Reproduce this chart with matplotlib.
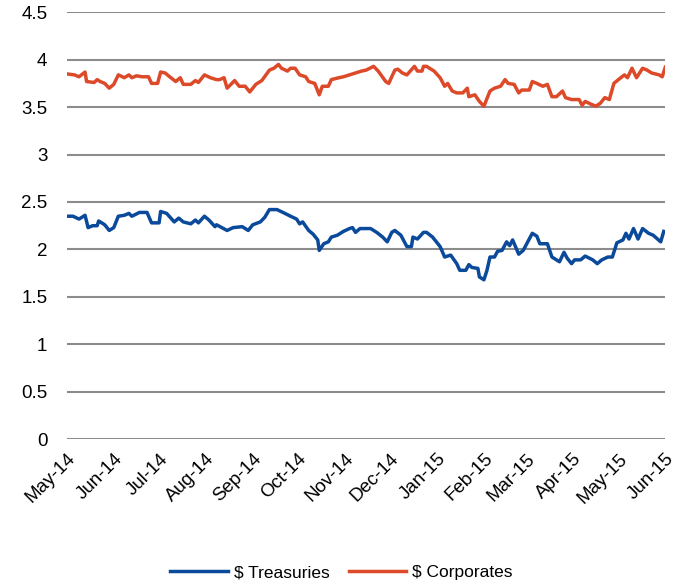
import numpy as np
import pandas as pd
import matplotlib
matplotlib.use("Agg")
import matplotlib.pyplot as plt
import matplotlib.dates as mdates

# yields (%)
tsy_dates = ["2014-05-01", "2014-05-05", "2014-05-09", "2014-05-13", "2014-05-15", "2014-05-18",
             "2014-05-21", "2014-05-22", "2014-05-26", "2014-05-29", "2014-06-01", "2014-06-04",
             "2014-06-08", "2014-06-11", "2014-06-13", "2014-06-18", "2014-06-23", "2014-06-26",
             "2014-07-01", "2014-07-02", "2014-07-06", "2014-07-11", "2014-07-14", "2014-07-17",
             "2014-07-22", "2014-07-25", "2014-07-27", "2014-07-31", "2014-08-03", "2014-08-07",
             "2014-08-08", "2014-08-15", "2014-08-19", "2014-08-25", "2014-08-29", "2014-09-01",
             "2014-09-06", "2014-09-09", "2014-09-12", "2014-09-17", "2014-09-21", "2014-09-26",
             "2014-09-30", "2014-10-02", "2014-10-04", "2014-10-08", "2014-10-11", "2014-10-14",
             "2014-10-15", "2014-10-18", "2014-10-21", "2014-10-23", "2014-10-27", "2014-10-31",
             "2014-11-04", "2014-11-06", "2014-11-08", "2014-11-11", "2014-11-18", "2014-11-22",
             "2014-11-26", "2014-11-29", "2014-12-02", "2014-12-04", "2014-12-08", "2014-12-12",
             "2014-12-15", "2014-12-16", "2014-12-19", "2014-12-23", "2014-12-25", "2014-12-29",
             "2015-01-03", "2015-01-06", "2015-01-10", "2015-01-14", "2015-01-16", "2015-01-20",
             "2015-01-22", "2015-01-24", "2015-01-28", "2015-01-29", "2015-02-01", "2015-02-03",
             "2015-02-05", "2015-02-08", "2015-02-10", "2015-02-13", "2015-02-16", "2015-02-18",
             "2015-02-20", "2015-02-24", "2015-02-27", "2015-03-02", "2015-03-05", "2015-03-08",
             "2015-03-10", "2015-03-15", "2015-03-18", "2015-03-21", "2015-03-23", "2015-03-26",
             "2015-03-28", "2015-03-31", "2015-04-02", "2015-04-06", "2015-04-09", "2015-04-14",
             "2015-04-17", "2015-04-20", "2015-04-24", "2015-04-27", "2015-04-30", "2015-05-04",
             "2015-05-06", "2015-05-08", "2015-05-11", "2015-05-14", "2015-05-17", "2015-05-21",
             "2015-05-24", "2015-05-29", "2015-05-31"]
tsy = [2.35, 2.35, 2.32, 2.36, 2.23, 2.25,
       2.25, 2.30, 2.26, 2.20, 2.23, 2.35,
       2.36, 2.38, 2.35, 2.39, 2.39, 2.28,
       2.28, 2.40, 2.38, 2.29, 2.33, 2.29,
       2.27, 2.31, 2.28, 2.35, 2.31, 2.24,
       2.26, 2.20, 2.23, 2.24, 2.20, 2.26,
       2.29, 2.34, 2.42, 2.42, 2.39, 2.35,
       2.32, 2.27, 2.29, 2.20, 2.16, 2.10,
       1.99, 2.06, 2.08, 2.13, 2.15, 2.19,
       2.22, 2.23, 2.18, 2.22, 2.22, 2.18,
       2.13, 2.08, 2.18, 2.20, 2.15, 2.03,
       2.03, 2.13, 2.11, 2.18, 2.18, 2.13,
       2.03, 1.92, 1.94, 1.85, 1.78, 1.78,
       1.84, 1.81, 1.80, 1.71, 1.68, 1.78,
       1.92, 1.92, 1.98, 1.99, 2.08, 2.04,
       2.10, 1.95, 1.99, 2.08, 2.17, 2.14,
       2.06, 2.06, 1.92, 1.89, 1.87, 1.97,
       1.91, 1.85, 1.89, 1.89, 1.93, 1.89,
       1.85, 1.89, 1.92, 1.92, 2.07, 2.10,
       2.17, 2.11, 2.22, 2.11, 2.22, 2.17,
       2.15, 2.08, 2.19]

corp_dates = ["2014-05-01", "2014-05-06", "2014-05-09", "2014-05-13", "2014-05-14", "2014-05-19",
              "2014-05-21", "2014-05-23", "2014-05-26", "2014-05-29", "2014-06-01", "2014-06-04",
              "2014-06-08", "2014-06-11", "2014-06-13", "2014-06-16", "2014-06-20", "2014-06-24",
              "2014-06-26", "2014-06-30", "2014-07-02", "2014-07-05", "2014-07-08", "2014-07-12",
              "2014-07-15", "2014-07-17", "2014-07-22", "2014-07-25", "2014-07-27", "2014-07-31",
              "2014-08-04", "2014-08-08", "2014-08-10", "2014-08-13", "2014-08-15", "2014-08-20",
              "2014-08-23", "2014-08-27", "2014-08-30", "2014-09-03", "2014-09-07", "2014-09-12",
              "2014-09-15", "2014-09-18", "2014-09-20", "2014-09-24", "2014-09-26", "2014-09-29",
              "2014-10-02", "2014-10-06", "2014-10-08", "2014-10-12", "2014-10-15", "2014-10-17",
              "2014-10-21", "2014-10-23", "2014-10-28", "2014-10-31", "2014-11-04", "2014-11-08",
              "2014-11-12", "2014-11-15", "2014-11-20", "2014-11-23", "2014-11-28", "2014-11-30",
              "2014-12-04", "2014-12-06", "2014-12-09", "2014-12-12", "2014-12-17", "2014-12-19",
              "2014-12-22", "2014-12-23", "2014-12-25", "2014-12-30", "2015-01-03", "2015-01-06",
              "2015-01-08", "2015-01-11", "2015-01-14", "2015-01-18", "2015-01-21", "2015-01-22",
              "2015-01-26", "2015-01-29", "2015-02-01", "2015-02-05", "2015-02-08", "2015-02-12",
              "2015-02-15", "2015-02-17", "2015-02-21", "2015-02-24", "2015-02-26", "2015-03-03",
              "2015-03-05", "2015-03-08", "2015-03-12", "2015-03-15", "2015-03-18", "2015-03-21",
              "2015-03-25", "2015-03-27", "2015-03-31", "2015-04-05", "2015-04-07", "2015-04-09",
              "2015-04-13", "2015-04-16", "2015-04-19", "2015-04-22", "2015-04-25", "2015-04-28",
              "2015-05-01", "2015-05-05", "2015-05-07", "2015-05-10", "2015-05-13", "2015-05-17",
              "2015-05-20", "2015-05-23", "2015-05-28", "2015-05-30", "2015-06-01"]
corp = [3.85, 3.84, 3.82, 3.87, 3.77, 3.76,
        3.79, 3.77, 3.75, 3.70, 3.74, 3.84,
        3.81, 3.84, 3.81, 3.83, 3.82, 3.82,
        3.75, 3.75, 3.87, 3.86, 3.82, 3.77,
        3.81, 3.74, 3.74, 3.78, 3.76, 3.84,
        3.81, 3.79, 3.79, 3.81, 3.70, 3.78,
        3.72, 3.72, 3.66, 3.74, 3.78, 3.89,
        3.91, 3.95, 3.91, 3.88, 3.91, 3.91,
        3.84, 3.82, 3.77, 3.75, 3.63, 3.72,
        3.72, 3.79, 3.81, 3.82, 3.84, 3.86,
        3.88, 3.89, 3.93, 3.88, 3.77, 3.75,
        3.89, 3.90, 3.86, 3.84, 3.93, 3.88,
        3.88, 3.93, 3.93, 3.88, 3.81, 3.72,
        3.75, 3.67, 3.65, 3.65, 3.70, 3.61,
        3.63, 3.56, 3.51, 3.67, 3.70, 3.72,
        3.79, 3.75, 3.74, 3.65, 3.68, 3.68,
        3.77, 3.75, 3.72, 3.74, 3.61, 3.61,
        3.67, 3.60, 3.58, 3.58, 3.52, 3.56,
        3.53, 3.51, 3.54, 3.60, 3.58, 3.75,
        3.79, 3.84, 3.81, 3.91, 3.81, 3.91,
        3.89, 3.86, 3.84, 3.82, 3.92]

series_names = ["$ Treasuries", "$ Corporates"]
colors = ["#0b4a9b", "#dc4a2a"]
yticks = [0, 0.5, 1, 1.5, 2, 2.5, 3, 3.5, 4, 4.5]
ytick_labels = ["0", "0.5", "1", "1.5", "2", "2.5", "3", "3.5", "4", "4.5"]

plt.rcParams['font.family'] = ['Liberation Sans', 'DejaVu Sans']

fig = plt.figure(figsize=(6.83, 5.84), dpi=100)
ax = fig.add_axes([0.098, 0.248, 0.876, 0.731])

ax.plot(pd.to_datetime(tsy_dates), tsy, color=colors[0], lw=2.5, label=series_names[0])
ax.plot(pd.to_datetime(corp_dates), corp, color=colors[1], lw=2.5, label=series_names[1])

ax.set_ylim(0, 4.5)
ax.set_yticks(yticks)
ax.set_yticklabels(ytick_labels)
ax.set_xlim(pd.Timestamp("2014-05-01"), pd.Timestamp("2015-06-01"))
ax.xaxis.set_major_locator(mdates.MonthLocator())
ax.xaxis.set_major_formatter(mdates.DateFormatter("%b-%y"))
plt.setp(ax.get_xticklabels(), rotation=45, ha="right", rotation_mode="anchor")

ax.grid(axis="y", color="#8c8c8c", lw=1.5)
ax.set_axisbelow(True)
for s in ax.spines.values():
    s.set_visible(False)
ax.tick_params(length=0, labelsize=13.5, colors="black")
ax.tick_params(axis="x", pad=8)
ax.tick_params(axis="y", pad=14)

fig.legend(loc="lower center", bbox_to_anchor=(0.5, -0.02), ncol=2, frameon=False,
           prop={"size": 12.5}, handlelength=3.3, columnspacing=1.1, handletextpad=0.35)

fig.savefig("out.png", dpi=100)
